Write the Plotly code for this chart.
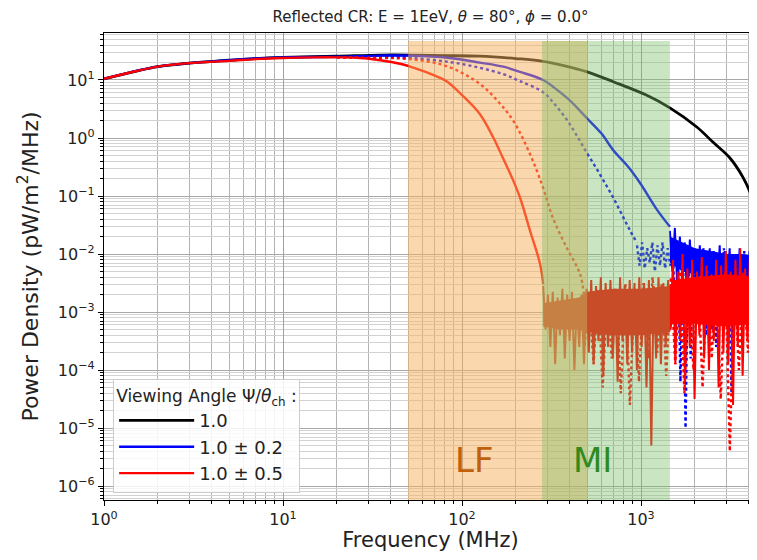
import numpy as np
import plotly.graph_objects as go

# ---------------- data (log10 of power density) ----------------
black_f = [1, 1.5, 2, 3, 5, 7, 10, 20, 35, 51, 80, 126, 200, 273, 380, 500, 700, 1070,
           1450, 2050, 2520, 3130, 3700, 4170, 4450]
black_logp = [1.02, 1.15, 1.23, 1.29, 1.34, 1.37, 1.39, 1.41, 1.43, 1.43, 1.42, 1.41, 1.37,
              1.33, 1.24, 1.14, 0.97, 0.74, 0.52, 0.19, -0.07, -0.34, -0.67, -1.02, -1.33]

blue_f = [1, 2, 5, 10, 20, 35, 51, 85, 126, 170, 211, 284, 330, 386, 440, 499, 600, 700,
          850, 990, 1230, 1450]
blue_logp = [1.02, 1.23, 1.34, 1.39, 1.40, 1.42, 1.42, 1.38, 1.30, 1.23, 1.14, 1.0, 0.86,
             0.69, 0.52, 0.34, 0.08, -0.21, -0.50, -0.78, -1.24, -1.53]

blue_dot_f = [20, 35, 51, 85, 126, 170, 211, 284, 330, 386, 440, 499, 570, 646, 720, 794,
              870, 950]
blue_dot_logp = [1.39, 1.40, 1.38, 1.31, 1.21, 1.10, 0.98, 0.79, 0.58, 0.31, 0.03, -0.26,
                 -0.55, -0.84, -1.10, -1.36, -1.60, -1.81]

red_f = [1, 1.5, 2, 3, 5, 7, 10, 15, 20, 27, 35, 45, 55, 70, 82, 100, 126, 150, 169, 190,
         211, 240, 273, 284]
red_logp = [1.02, 1.15, 1.23, 1.29, 1.33, 1.36, 1.38, 1.39, 1.39, 1.38, 1.34, 1.28, 1.20,
            1.08, 0.98, 0.74, 0.41, 0.0, -0.34, -0.68, -1.03, -1.60, -2.17, -2.52]

red_dot_f = [20, 35, 51, 82, 126, 160, 194, 240, 284, 322, 386, 456, 480]
red_dot_logp = [1.39, 1.38, 1.36, 1.24, 0.93, 0.62, 0.29, -0.28, -0.86, -1.38, -1.90,
                -2.34, -2.70]

# noise floors: main body envelopes
red_body_f = [284, 350, 450, 500, 700, 1000, 1450, 1500, 2000, 3000, 4450]
red_body_hi = [-2.85, -2.8, -2.75, -2.65, -2.6, -2.6, -2.55, -2.45, -2.4, -2.35, -2.4]
red_body_lo = [-3.25, -3.3, -3.3, -3.35, -3.4, -3.4, -3.35, -3.2, -3.2, -3.25, -3.2]

blue_body_f = [1450, 1700, 2000, 2500, 3000, 3700, 4450]
blue_body_hi = [-1.7, -1.8, -1.9, -1.95, -2.0, -2.0, -2.05]
blue_body_lo = [-2.15, -2.3, -2.35, -2.45, -2.45, -2.4, -2.45]

# noise spikes (log10 values, sampled evenly in log-frequency between the given limits)
red_noise_range = (284, 4450)
red_noise_logp = [
    -2.55, -3.3, -2.7, -3.6, -2.65, -3.9, -2.75, -3.4, -2.6, -3.8, -2.7, -3.5, -2.65, -4.0,
    -2.8, -3.6, -2.7, -3.9, -2.6,
    -3.7, -2.45, -3.9, -2.55, -3.5, -2.4, -4.1, -2.5, -3.6, -2.45, -3.8, -2.6, -4.2, -2.4,
    -3.5, -2.55, -3.9, -2.45, -3.7, -2.5, -4.0, -2.4, -3.6, -2.5, -4.3, -2.45, -5.3, -2.55,
    -3.8, -2.4, -3.9, -2.5, -3.6, -2.45,
    -3.3, -2.1, -3.9, -2.3, -3.5, -2.0, -4.2, -2.25, -3.6, -2.1, -4.5, -2.3, -3.4, -2.05,
    -3.8, -2.2, -4.0, -2.35, -3.5, -2.1, -4.3, -2.2, -3.7, -1.95, -3.9, -2.3, -4.6, -2.1,
    -3.6, -1.9, -4.1, -2.25, -3.5, -2.05, -3.8, -2.3, -3.4]

red_dot_noise_range = (456, 4450)
red_dot_noise_logp = [
    -2.8, -3.6, -2.7, -3.9, -2.6, -4.3, -2.7, -3.8, -2.6, -4.4, -2.5, -4.6, -2.6, -4.2,
    -2.5, -3.8, -2.4, -3.7, -2.5, -4.1, -2.4, -3.9, -2.3, -4.4, -2.5, -4.0, -2.4, -4.3,
    -2.3, -3.8, -2.4, -4.5, -2.3, -5.4, -2.4, -4.0, -2.3, -3.7, -2.4, -3.6]

blue_noise_range = (1450, 4450)
blue_noise_logp = [
    -1.6, -2.3, -1.55, -2.6, -1.7, -2.4, -1.8, -2.9, -1.75, -2.5, -1.9, -3.1, -1.85, -2.6,
    -1.95, -2.8, -1.9, -3.3, -2.0, -2.7, -1.85, -3.0, -1.95, -2.6, -1.9, -3.4, -2.0, -2.8,
    -1.9, -3.0, -2.05, -2.7, -1.95, -3.2, -2.0, -2.6]

blue_dot_noise_range = (950, 4450)
blue_dot_noise_logp = [
    -1.85, -2.2, -1.8, -2.25, -1.9, -2.15, -1.8, -2.3, -1.85, -2.2, -1.8, -2.25, -1.9, -2.2,
    -1.9, -3.2, -2.0, -4.2, -1.9, -5.0, -2.0, -3.8, -1.95, -3.0, -2.0, -2.8, -1.9, -3.4,
    -2.05, -2.9, -1.95, -3.6, -2.0, -3.0, -1.9, -2.8, -2.0, -4.4, -2.1, -3.1, -2.0, -2.7,
    -1.95, -3.3, -2.1, -2.9, -2.0, -3.0]

legend_labels = ["1.0", "1.0 ± 0.2", "1.0 ± 0.5"]
bands = [("LF", 50, 500), ("MI", 280, 1450)]
x_ticks = [1, 10, 100, 1000]
x_ticktext = ["10<sup>0</sup>", "10<sup>1</sup>", "10<sup>2</sup>", "10<sup>3</sup>"]
y_exps = [-6, -5, -4, -3, -2, -1, 0, 1]

# ---------------- figure ----------------
def p(vals):
    return [10 ** v for v in vals]

def noise_x(rng, vals):
    return np.geomspace(rng[0], rng[1], len(vals))

BLACK, BLUE, RED = "#000000", "#0000ff", "#ff0000"
fig = go.Figure()

def body(f, lo, hi, color):
    fig.add_trace(go.Scatter(x=f, y=p(lo), mode="lines", line=dict(width=0, color=color),
                             showlegend=False, hoverinfo="skip"))
    fig.add_trace(go.Scatter(x=f, y=p(hi), mode="lines", line=dict(width=0, color=color),
                             fill="tonexty", fillcolor=color, showlegend=False,
                             hoverinfo="skip"))

fig.add_trace(go.Scatter(x=black_f, y=p(black_logp), mode="lines", line_shape="spline",
                         line=dict(color=BLACK, width=2.8), name=legend_labels[0]))
# blue
fig.add_trace(go.Scatter(x=blue_f, y=p(blue_logp), mode="lines", line_shape="spline",
                         line=dict(color=BLUE, width=2.4), name=legend_labels[1]))
body(blue_body_f, blue_body_lo, blue_body_hi, BLUE)
fig.add_trace(go.Scatter(x=noise_x(blue_noise_range, blue_noise_logp), y=p(blue_noise_logp),
                         mode="lines", line=dict(color=BLUE, width=2), showlegend=False))
fig.add_trace(go.Scatter(x=blue_dot_f, y=p(blue_dot_logp), mode="lines", line_shape="spline",
                         line=dict(color=BLUE, width=2.4, dash="dot"), showlegend=False))
fig.add_trace(go.Scatter(x=noise_x(blue_dot_noise_range, blue_dot_noise_logp),
                         y=p(blue_dot_noise_logp), mode="lines",
                         line=dict(color=BLUE, width=2.4, dash="dot"), showlegend=False))
# red
fig.add_trace(go.Scatter(x=red_f, y=p(red_logp), mode="lines", line_shape="spline",
                         line=dict(color=RED, width=2.4), name=legend_labels[2]))
body(red_body_f, red_body_lo, red_body_hi, RED)
fig.add_trace(go.Scatter(x=noise_x(red_noise_range, red_noise_logp), y=p(red_noise_logp),
                         mode="lines", line=dict(color=RED, width=2), showlegend=False))
fig.add_trace(go.Scatter(x=red_dot_f, y=p(red_dot_logp), mode="lines", line_shape="spline",
                         line=dict(color=RED, width=2.4, dash="dot"), showlegend=False))
fig.add_trace(go.Scatter(x=noise_x(red_dot_noise_range, red_dot_noise_logp),
                         y=p(red_dot_noise_logp), mode="lines",
                         line=dict(color=RED, width=2.4, dash="dot"), showlegend=False))

# shaded bands (drawn above the curves, semi-transparent)
band_fill = {"LF": "rgba(245,176,90,0.5)", "MI": "rgba(120,190,100,0.4)"}
for name, f0, f1 in bands:
    fig.add_shape(type="rect", xref="x", yref="y", x0=f0, x1=f1, y0=1e-7, y1=47,
                  fillcolor=band_fill[name], line=dict(width=0), layer="above")

label_color = {"LF": "#c0600c", "MI": "#2f8a1f"}
label_pos = {"LF": 117, "MI": 535}
for name, f0, f1 in bands:
    fig.add_annotation(x=np.log10(label_pos[name]), y=-5.55, xref="x", yref="y", text=name,
                       showarrow=False, font=dict(size=34, color=label_color[name],
                                                  family="DejaVu Sans"))

minor_x = [m * 10 ** e for e in range(0, 4) for m in range(2, 10)]
minor_y = [m * 10 ** e for e in range(-7, 2) for m in range(2, 10)]

# the page body has an 8px margin: size the figure so the page does not overflow
fig.update_layout(
    width=749, height=544,
    margin=dict(l=96, r=0, t=25, b=52),
    paper_bgcolor="white", plot_bgcolor="white",
    font=dict(family="DejaVu Sans", size=15, color="#222222"),
    title=dict(text="Reflected CR: E = 1EeV, <i>θ</i> = 80°, <i>ϕ</i> = 0.0°",
               x=0.5, xref="paper", xanchor="center", y=1 - 3 / 544, yanchor="top",
               pad=dict(t=0, b=0), font=dict(size=15, color="#222222")),
    showlegend=True,
    legend=dict(x=0.014, y=0.015, xanchor="left", yanchor="bottom", traceorder="normal",
                bgcolor="rgba(255,255,255,0.85)", bordercolor="#cccccc", borderwidth=1,
                font=dict(size=18, color="#222222"), itemwidth=75,
                title=dict(text="Viewing Angle Ψ/<i>θ</i><sub>ch</sub> :",
                           font=dict(size=17, color="#222222")),
                tracegroupgap=0),
    xaxis=dict(type="log", range=[0, 3.648], showline=True, linecolor="black", linewidth=1.3,
               mirror=True, ticks="outside", ticklen=5, tickcolor="black",
               tickmode="array", tickvals=x_ticks, ticktext=x_ticktext,
               tickfont=dict(size=16),
               showgrid=True, gridcolor="#a0a0a0", gridwidth=1,
               minor=dict(tickmode="array", tickvals=minor_x, ticks="outside", ticklen=3,
                          tickcolor="black", showgrid=True, gridcolor="#b4b4b4", gridwidth=1),
               title=dict(text="Frequency (MHz)", font=dict(size=21), standoff=6),
               zeroline=False),
    yaxis=dict(type="log", range=[-6.24, 1.81], showline=True, linecolor="black", linewidth=1.3,
               mirror=False, ticks="outside", ticklen=5, tickcolor="black",
               tickmode="array", tickvals=[10 ** e for e in y_exps],
               ticktext=["10<sup>%s</sup>" % (str(e).replace("-", "−")) for e in y_exps],
               tickfont=dict(size=16),
               showgrid=True, gridcolor="#a8a8a8", gridwidth=1,
               minor=dict(tickmode="array", tickvals=minor_y, ticks="outside", ticklen=3,
                          tickcolor="black", showgrid=True, gridcolor="#d2d2d2", gridwidth=1),
               title=dict(text="Power Density (pW/m<sup>2</sup>/MHz)", font=dict(size=22),
                          standoff=13),
               zeroline=False),
)

fig.write_html("out.html")
